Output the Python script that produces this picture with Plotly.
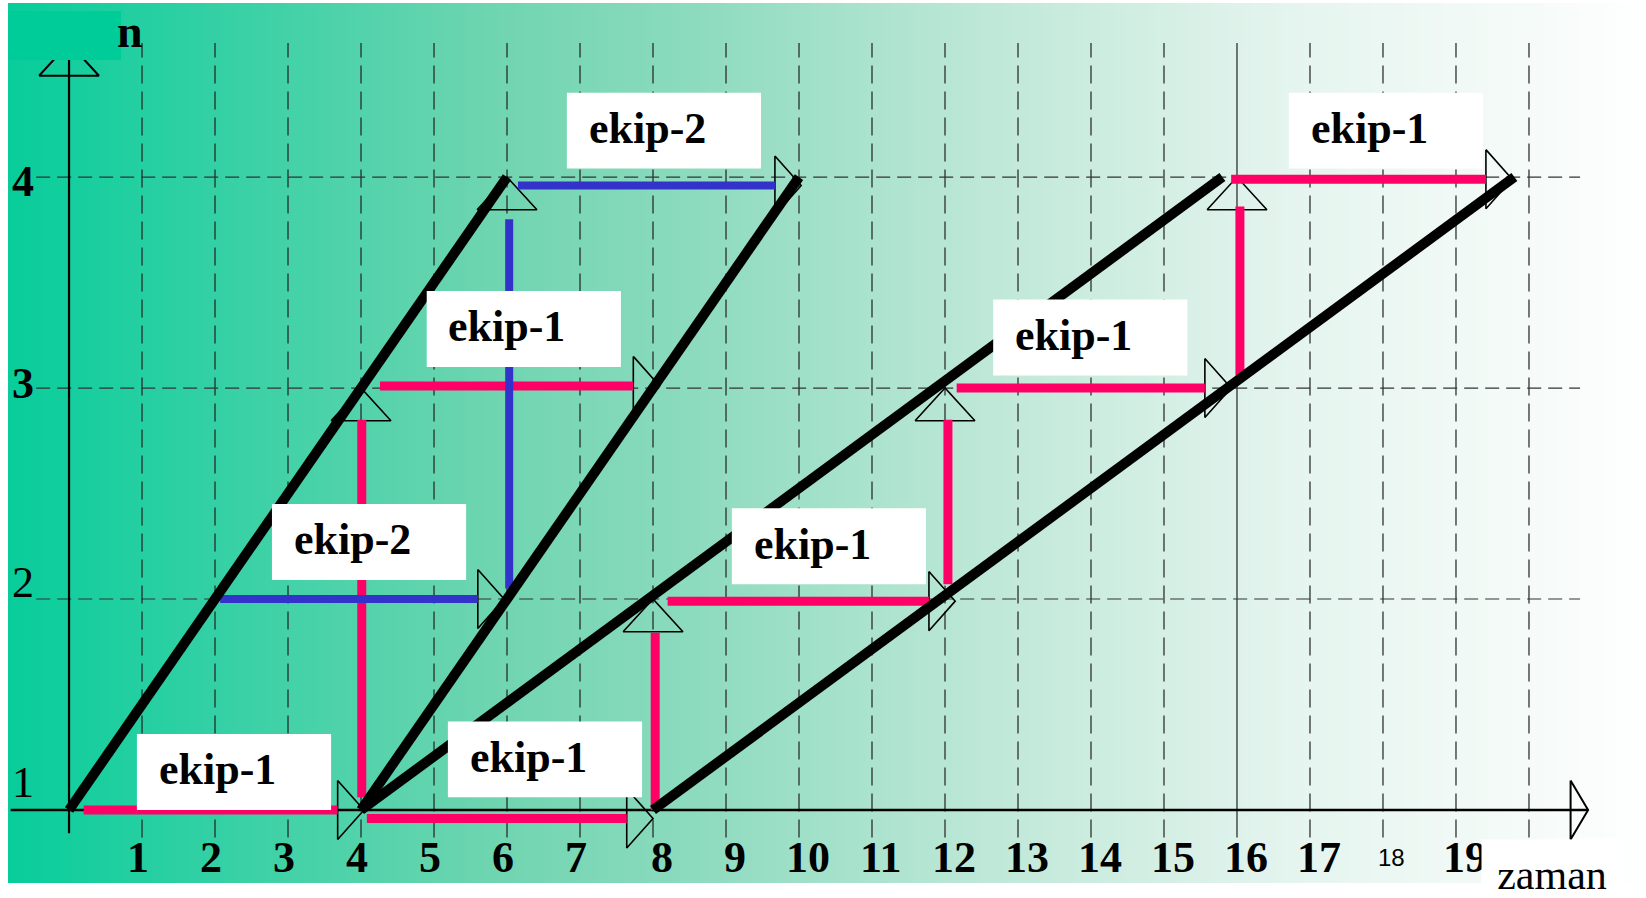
import plotly.graph_objects as go

# levels (n) and time ticks (zaman)
levels = [1, 2, 3, 4]
time_ticks = list(range(1, 21))

# black line-of-balance lines: start/end time, start/end level
lob_t0 = [0, 4, 4, 8]
lob_t1 = [6, 10, 15.8, 19.8]
lob_n0 = [1, 1, 1, 1]
lob_n1 = [4, 4, 4, 4]

# ekip-1 (red) horizontal bars
c1_h_t0 = [0.2, 4.08, 4.26, 8.2, 12.16, 15.92]
c1_h_t1 = [3.68, 7.64, 7.73, 11.78, 15.56, 19.41]
c1_h_n = [1.0, 0.96, 3.01, 1.99, 3.0, 3.99]
# ekip-1 vertical moves
c1_v_t = [4.01, 8.03, 12.04, 16.04]
c1_v_n0 = [1.06, 1.0, 2.07, 3.06]
c1_v_n1 = [2.85, 1.84, 2.85, 3.86]

# ekip-2 (blue) horizontal bars and vertical move
c2_h_t0 = [2.07, 6.15]
c2_h_t1 = [5.60, 9.67]
c2_h_n = [2.0, 3.96]
c2_v_t = [6.03]
c2_v_n0 = [2.05]
c2_v_n1 = [3.80]

# up-arrow tips
up_tip_t = [4, 8, 12, 16, 6]
up_tip_n = [3, 2, 3, 4, 4]

# label boxes
label_text = ["ekip-2", "ekip-1", "ekip-1", "ekip-1", "ekip-2", "ekip-1", "ekip-1", "ekip-1"]
label_t = [6.82, 4.90, 16.71, 12.66, 2.78, 9.08, 0.93, 5.19]
label_n = [4.22, 3.28, 4.22, 3.24, 2.27, 2.25, 1.18, 1.24]

RED = "#FF0066"
BLUE = "#3333CC"
TEAL = "#00CC99"
SERIF = "Liberation Serif, Times New Roman, serif"

X_RANGE = [-0.836, 21.603]
Y_RANGE = [0.654, 4.825]

fig = go.Figure()

# gradient background
fig.add_trace(go.Heatmap(
    x=X_RANGE, y=Y_RANGE, z=[[0, 1], [0, 1]], zsmooth="best",
    colorscale=[[0, "#08CD9B"], [0.3, "#70D5B1"], [0.42, "#8DDBBF"],
                [0.6, "#BFE8D8"], [0.78, "#E4F4EE"], [0.95, "#F8FCFA"], [1, "#FFFFFF"]],
    showscale=False, hoverinfo="skip"))


def segs(x0s, x1s, y0s, y1s):
    xs, ys = [], []
    for a, b, c, d in zip(x0s, x1s, y0s, y1s):
        xs += [a, b, None]
        ys += [c, d, None]
    return xs, ys


def add_lines(xs, ys, color, width, dash="solid"):
    fig.add_trace(go.Scatter(x=xs, y=ys, mode="lines", hoverinfo="skip",
                             line=dict(color=color, width=width, dash=dash)))


# vertical grid lines
grid_t = [t for t in time_ticks if t != 16]
xs, ys = segs(grid_t, grid_t, [0.87] * len(grid_t), [4.635] * len(grid_t))
add_lines(xs, ys, "#222222", 1.2, "18px,8px")
add_lines([16, 16], [0.87, 4.635], "#222222", 1.2)
# horizontal grid lines
hl = levels[1:]
xs, ys = segs([-0.45] * len(hl), [20.7] * len(hl), hl, hl)
add_lines(xs, ys, "#333333", 1.2, "14px,7px")

# axes
add_lines([-0.8, 20.81], [1, 1], "black", 2.5)
add_lines([0, 0], [0.89, 4.57], "black", 2.2)
add_lines([20.57, 20.81, 20.57, 20.57], [1.14, 1, 0.86, 1.14], "black", 2)
add_lines([-0.41, 0, 0.41, -0.41], [4.48, 4.635, 4.48, 4.48], "black", 2)

# arrow heads
ax, ay = [], []
for te, n in zip(c1_h_t1 + c2_h_t1, c1_h_n + c2_h_n):
    ax += [te, te + 0.36, te, te, None]
    ay += [n + 0.14, n, n - 0.14, n + 0.14, None]
for t, n in zip(up_tip_t, up_tip_n):
    ax += [t - 0.41, t, t + 0.41, t - 0.41, None]
    ay += [n - 0.155, n, n - 0.155, n - 0.155, None]
add_lines(ax, ay, "black", 1.6)

# crew bars
xs, ys = segs(c1_h_t0, c1_h_t1, c1_h_n, c1_h_n)
vx, vy = segs(c1_v_t, c1_v_t, c1_v_n0, c1_v_n1)
add_lines(xs + vx, ys + vy, RED, 9)
xs, ys = segs(c2_h_t0, c2_h_t1, c2_h_n, c2_h_n)
vx, vy = segs(c2_v_t, c2_v_t, c2_v_n0, c2_v_n1)
add_lines(xs + vx, ys + vy, BLUE, 8)

# line of balance
xs, ys = segs(lob_t0, lob_t1, lob_n0, lob_n1)
add_lines(xs, ys, "black", 10)

shapes = []
annotations = []

# label boxes
BOX_W, BOX_H = 2.66, 0.36
for txt, t, n in zip(label_text, label_t, label_n):
    shapes.append(dict(type="rect", xref="x", yref="y", x0=t, x1=t + BOX_W,
                       y0=n - BOX_H / 2, y1=n + BOX_H / 2, fillcolor="white",
                       line=dict(width=0), layer="above"))
    annotations.append(dict(x=t + 0.27, y=n + 0.01, xref="x", yref="y", text=txt,
                            showarrow=False, xanchor="left", yanchor="middle",
                            font=dict(family=SERIF, size=44, color="black", weight="bold")))

# teal patch over the top of the n axis
shapes.append(dict(type="rect", xref="x", yref="y", x0=-0.836, x1=0.712,
                   y0=4.555, y1=4.787, fillcolor=TEAL, line=dict(width=0), layer="above"))

# x tick labels
for t in time_ticks:
    if t == 18:
        f = dict(family="Liberation Sans, Arial, sans-serif", size=24, color="black")
    else:
        f = dict(family=SERIF, size=44, color="black", weight="bold")
    shift = -0.05 if t < 8 else 0.12
    annotations.append(dict(x=t + shift, y=0.773, xref="x", yref="y", text=str(t),
                            showarrow=False, xanchor="center", yanchor="middle", font=f))

# y tick labels
ylab_n = [1.13, 2.08, 3.02, 3.98]
for lv, yn in zip(levels, ylab_n):
    annotations.append(dict(x=-0.63, y=yn, xref="x", yref="y", text=str(lv),
                            showarrow=False, xanchor="center", yanchor="middle",
                            font=dict(family=SERIF, size=44, color="black",
                                      weight="bold" if lv > 2 else "normal")))

# axis titles
annotations.append(dict(x=0.84, y=4.69, xref="x", yref="y", text="n", showarrow=False,
                        xanchor="center", yanchor="middle",
                        font=dict(family=SERIF, size=46, color="black", weight="bold")))
annotations.append(dict(x=20.32, y=0.016, xref="x", yref="paper", text="zaman", showarrow=False,
                        xanchor="center", yanchor="middle", width=140, height=58,
                        valign="bottom", borderpad=0,
                        bgcolor="white", font=dict(family=SERIF, size=42, color="black")))

fig.update_layout(
    width=1646, height=898, autosize=False,
    margin=dict(l=8, r=0, t=3, b=15, pad=0),
    paper_bgcolor="white", plot_bgcolor="white",
    showlegend=False,
    xaxis=dict(range=X_RANGE, visible=False, fixedrange=True),
    yaxis=dict(range=Y_RANGE, visible=False, fixedrange=True),
    shapes=shapes, annotations=annotations,
)

fig.write_html("out.html", config={"displayModeBar": False},
               post_script="document.body.style.margin='0';")
